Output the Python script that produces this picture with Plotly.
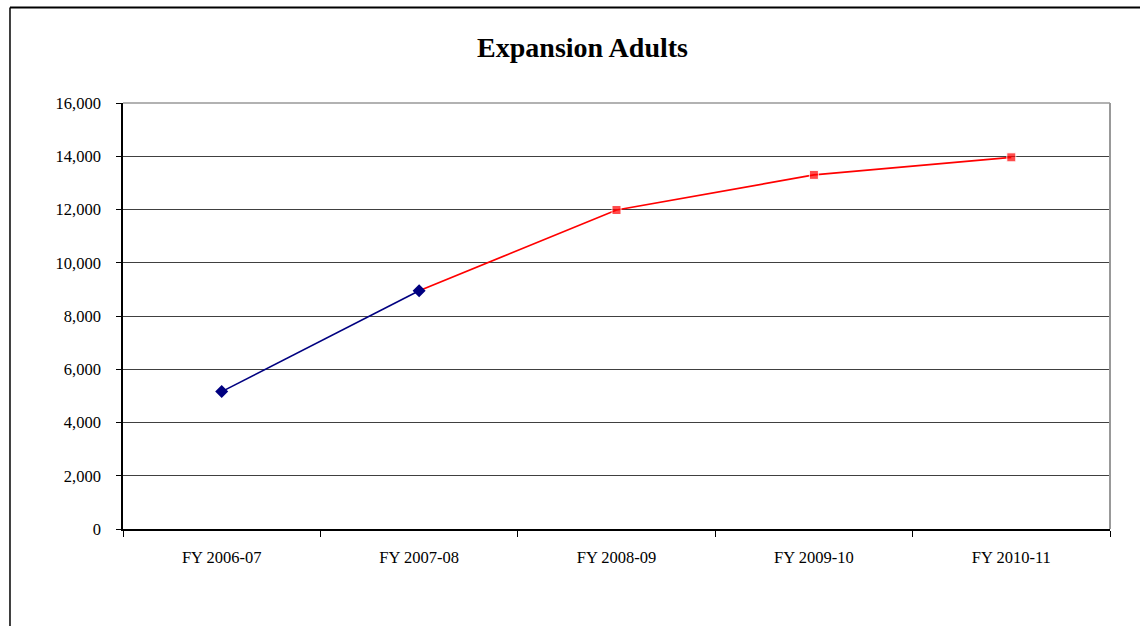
import plotly.graph_objects as go

# Fiscal years on the category axis
years = ["FY 2006-07", "FY 2007-08", "FY 2008-09", "FY 2009-10", "FY 2010-11"]

# Actual enrollment (navy, diamonds)
actual_years = ["FY 2006-07", "FY 2007-08"]
actual_values = [5160, 8950]

# Projected enrollment (red, squares), starting from the last actual year
projected_years = ["FY 2007-08", "FY 2008-09", "FY 2009-10", "FY 2010-11"]
projected_values = [8950, 11980, 13300, 13960]

# y-axis ticks
y_ticks = [0, 2000, 4000, 6000, 8000, 10000, 12000, 14000, 16000]
y_tick_labels = ["0", "2,000", "4,000", "6,000", "8,000", "10,000", "12,000", "14,000", "16,000"]

SERIF = "Liberation Serif, Times New Roman, serif"

fig = go.Figure()

fig.add_trace(go.Scatter(
    x=projected_years, y=projected_values,
    mode="lines+markers",
    line=dict(color="#FF0000", width=1.7),
    marker=dict(symbol="square", size=[0, 9, 9, 9], color="#FF0000"),
    showlegend=False, cliponaxis=False,
))
fig.add_trace(go.Scatter(
    x=actual_years, y=actual_values,
    mode="lines+markers",
    line=dict(color="#000080", width=1.6),
    marker=dict(symbol="diamond", size=10, color="#000080"),
    showlegend=False, cliponaxis=False,
))

# Plot-area border on the top and right edges
fig.add_shape(type="line", xref="paper", yref="paper", x0=0, x1=1, y0=1, y1=1,
              line=dict(color="#999999", width=1.5))
fig.add_shape(type="line", xref="paper", yref="paper", x0=1, x1=1, y0=0, y1=1,
              line=dict(color="#999999", width=2))

# Outer chart frame (left and top edges)
fig.add_shape(type="line", xref="paper", yref="paper", x0=-0.1145, x1=-0.1145, y0=-0.3, y1=1.224,
              line=dict(color="#000000", width=1.5))
fig.add_shape(type="line", xref="paper", yref="paper", x0=-0.1145, x1=1.1, y0=1.224, y1=1.224,
              line=dict(color="#000000", width=2))

fig.update_layout(
    width=1140, height=626,
    margin=dict(l=123, r=30, t=103, b=97),
    paper_bgcolor="white", plot_bgcolor="white",
    font=dict(family=SERIF, size=16.5, color="black"),
    title=dict(text="<b>Expansion Adults</b>", x=0.511, xanchor="center",
               y=0.925, yanchor="middle",
               font=dict(family=SERIF, size=28, color="black")),
    xaxis=dict(
        type="category", categoryorder="array", categoryarray=years,
        range=[-0.5, 4.5],
        showgrid=False, showline=True, linecolor="black", linewidth=1.5,
        ticks="outside", tickson="boundaries", ticklen=6, tickcolor="black", tickwidth=1,
        ticklabelstandoff=12,
        tickfont=dict(family=SERIF, size=16.5, color="black"),
        zeroline=False,
    ),
    yaxis=dict(
        range=[0, 16000], tickvals=y_ticks, ticktext=y_tick_labels,
        showgrid=True, gridcolor="#404040", gridwidth=1,
        showline=True, linecolor="black", linewidth=1.5,
        ticks="outside", ticklen=5, tickcolor="black", tickwidth=1,
        ticklabelstandoff=12,
        tickfont=dict(family=SERIF, size=16.5, color="black"),
        zeroline=False,
    ),
)

fig.write_html("out.html")
